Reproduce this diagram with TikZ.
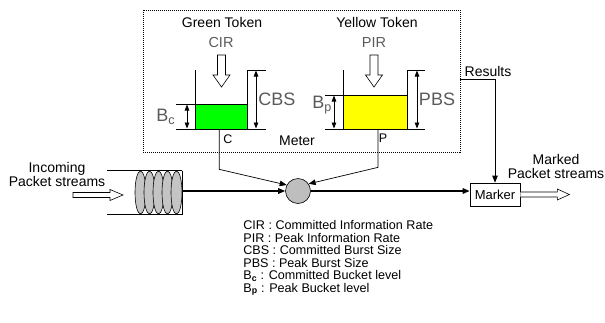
\documentclass[tikz,border=0pt]{standalone}
\usepackage{fontspec}
\setmainfont{Liberation Sans}
\usetikzlibrary{arrows.meta}
\definecolor{lblgray}{HTML}{5A5A5A}
\definecolor{ballgray}{HTML}{BEBEBE}
\definecolor{coilgray}{HTML}{C4C4C4}
\definecolor{tokgreen}{HTML}{00FF00}
\definecolor{tokyellow}{HTML}{FFFF00}
\begin{document}
\begin{tikzpicture}[x=1pt,y=-1pt,
  line width=0.7pt,
  tip/.style={-{Triangle[length=7pt,width=5.5pt]}},
  dimline/.style={{Triangle[length=6pt,width=4.5pt]}-{Triangle[length=6pt,width=4.5pt]},line width=0.8pt},
  txt/.style={inner sep=0pt,font=\fontsize{14}{15}\selectfont},
  small/.style={inner sep=0pt,font=\fontsize{12.5}{13}\selectfont},
  rate/.style={inner sep=0pt,text=lblgray,font=\fontsize{14.5}{16}\selectfont},
  size/.style={inner sep=0pt,text=lblgray,font=\fontsize{18}{20}\selectfont},
  leg/.style={inner sep=0pt,anchor=base west,font=\fontsize{12.6}{13}\selectfont},
  hollow/.style={draw,fill=white,line width=0.6pt},
  meterbox/.style={draw,densely dotted,line width=1pt}
]
\useasboundingbox (0,0) rectangle (605,322);

% Meter box
\draw[meterbox] (143,10) rectangle (460,152);
\coordinate (res) at (460,79);

% titles
\node[txt] (gt) at (222,22) {Green Token};
\node[txt] (yt) at (377,22) {Yellow Token};
\node[rate] (cir) at (221,43) {CIR};
\node[rate] (pir) at (374,43) {PIR};

% hollow down arrows
\draw[hollow] (217.5,55) -- (225.5,55) -- (225.5,75) -- (230,75) -- (221.5,87) -- (213,75) -- (217.5,75) -- cycle;
\draw[hollow] (370,55) -- (378,55) -- (378,75) -- (382.5,75) -- (374,87) -- (365.5,75) -- (370,75) -- cycle;

% green bucket
\node[draw,fill=tokgreen,minimum width=51.5pt,minimum height=25pt,inner sep=0pt] (gfill) at (221.25,116.5) {};
\draw (195.5,70) -- (195.5,129);
\draw (247,70) -- (247,129);
% CBS dimension
\draw (248,70) -- (266,70);
\draw (248,129) -- (266,129);
\draw[dimline] (256,70.5) -- (256,128.5);
\node[size] (cbs) at (277,99) {CBS};
% Bc dimension
\draw (176,104) -- (195.5,104);
\draw (176,129) -- (195.5,129);
\draw[dimline] (187,104.5) -- (187,128.5);
\node[size,anchor=west] (bc) at (156,117) {B\textsubscript{c}};

% yellow bucket
\node[draw,fill=tokyellow,minimum width=64pt,minimum height=34pt,inner sep=0pt] (yfill) at (375,112) {};
\draw (343,70) -- (343,129);
\draw (407,70) -- (407,129);
% PBS dimension
\draw (407,70) -- (425,70);
\draw (407,129) -- (425,129);
\draw[dimline] (417,70.5) -- (417,128.5);
\node[size] (pbs) at (437,99) {PBS};
% Bp dimension
\draw (325,95) -- (343,95);
\draw (325,129) -- (343,129);
\draw[dimline] (334,95.5) -- (334,128.5);
\node[size,anchor=west] (bp) at (312,105) {B\textsubscript{p}};

% labels in meter box
\node[small] (clbl) at (228,139) {C};
\node[small] (plbl) at (383,138) {P};
\node[txt] (meter) at (297,141) {Meter};

% results
\node[txt] (results) at (488,71) {Results};

% mixer and marker
\node[draw,circle,fill=ballgray,minimum size=25pt,inner sep=0pt,line width=0.6pt] (mix) at (298,191) {};
\node[draw,minimum width=50pt,minimum height=23pt,inner sep=0pt,font=\fontsize{13}{14}\selectfont] (marker) at (495,194.5) {Marker};

% packet queue (coil)
\draw (107,170.5) -- (182,170.5);
\draw (107,214.5) -- (182,214.5);
\foreach \cx in {140.5,149.5,158.5,167.5,176.5}
  \draw[fill=coilgray,line width=0.6pt] (\cx,192.5) ellipse [x radius=5.5pt, y radius=21.5pt];
\draw (182,170.5) -- (182,214.5);
\coordinate (coilout) at (182,191);

% incoming text and hollow arrow
\node[txt,align=center,font=\fontsize{14}{14.5}\selectfont] (incoming) at (57,174.5) {Incoming\\Packet streams};
\draw[hollow] (73,192.5) -- (110,192.5) -- (110,189.5) -- (123,195) -- (110,200.5) -- (110,197.5) -- (73,197.5) -- cycle;

% outgoing
\node[txt,align=center,font=\fontsize{14}{13.5}\selectfont] (marked) at (556,166.5) {Marked\\Packet streams};
\draw[hollow] (marker.east) ++(0,-2.5) -- ++(37,0) -- ++(0,-3) -- ++(12,5.5) -- ++(-12,5.5) -- ++(0,-3) -- ++(-37,0);

% connectors
\draw[tip,line width=1.5pt] (coilout) -- (mix.west);
\draw[tip,line width=1.5pt] (mix.east) -- (mix.east -| marker.west);
\draw[tip] ([xshift=-2pt]gfill.south) -- ++(0,40) -- (mix.152);
\draw[tip] ([xshift=3pt]yfill.south) -- ++(0,38) -- (mix.34);
\draw[tip] (res) -| (marker.north);

% legend
\node[leg] (l1) at (243,229.5) {CIR : Committed Information Rate};
\node[leg] (l2) at (243,242) {PIR : Peak Information Rate};
\node[leg] (l3) at (243,254.5) {CBS : Committed Burst Size};
\node[leg] (l4) at (243,267) {PBS : Peak Burst Size};
\node[leg] (l5) at (243,279.5) {B\textsubscript{\textbf{c}} : Committed Bucket level};
\node[leg] (l6) at (243,292) {B\textsubscript{\textbf{p}} : Peak Bucket level};
\end{tikzpicture}
\end{document}
